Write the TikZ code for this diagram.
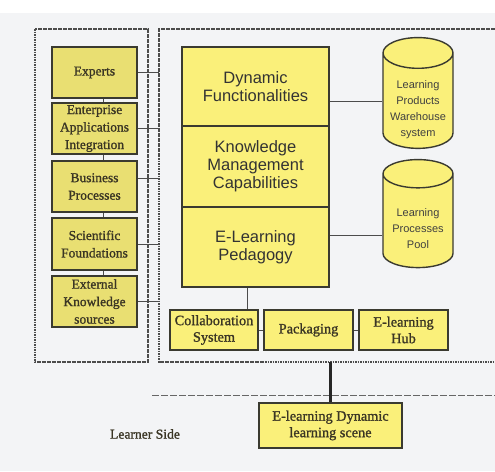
\documentclass[tikz,border=0pt]{standalone}
\usepackage{fontspec}
\setmainfont[BoldFont=Liberation Serif,BoldFeatures={FakeBold=1.2}]{Liberation Serif}
\setsansfont{Liberation Sans}
\usetikzlibrary{shapes.geometric}
\definecolor{leftfill}{HTML}{E9DF72}
\definecolor{mainfill}{HTML}{FAF07A}
\definecolor{edge}{HTML}{3A3A30}
\definecolor{ink}{HTML}{3A3524}
\definecolor{page}{HTML}{F3F4F6}
\newcommand{\storelabel}[1]{\raisebox{-8pt}[\height][\depth]{\begin{tabular}{@{}c@{}}#1\end{tabular}}}
\begin{document}
\begin{tikzpicture}[x=1pt,y=-1pt]
    \tikzstyle{every node}+=[inner sep=0pt]
    \tikzstyle{leftbox}=[draw=edge,line width=1.4pt,fill=leftfill,minimum width=85pt,align=center,text=ink,font=\bfseries\fontsize{13.5}{17.5}\selectfont]
    \tikzstyle{mainbox}=[draw=edge,line width=1.4pt,fill=mainfill,minimum width=147pt,align=center,text=black!80,font=\sffamily\fontsize{16.5}{18}\selectfont]
    \tikzstyle{store}=[draw=edge,line width=1.4pt,fill=mainfill,cylinder,shape border rotate=90,aspect=0.55,minimum width=70pt,minimum height=108pt,text=black!75,font=\sffamily\fontsize{11}{16}\selectfont]
    \tikzstyle{botbox}=[draw=edge,line width=1.4pt,fill=mainfill,minimum height=40pt,align=center,text=ink,font=\bfseries\fontsize{14.3}{16.5}\selectfont]
    \tikzstyle{link}=[draw=black!70,line width=0.8pt]
    \tikzstyle{region}=[draw=black!70,line width=1.6pt,dash pattern=on 1.6pt off 0.9pt]
    \fill [white] (0,0) rectangle (495,471);
    \fill [page] (0,13) rectangle (495,471);
    \useasboundingbox (0,0) rectangle (495,471);
    \draw [region] (35,29) rectangle (148,362);
    \draw [region] (495,29) -- (159,29) -- (159,362) -- (495,362);
    \draw [black!60,line width=0.8pt,dash pattern=on 7pt off 2pt] (152,395) -- (495,395);
    \coordinate (rside) at (159,0);
    \coordinate (lx) at (103,0);
    \coordinate (bx) at (247,0);
    \coordinate (rb) at (0,362);
    \node [leftbox,minimum height=51pt] (experts) at (94.5,72.5) {Experts};
    \node [leftbox,minimum height=51pt] (enterprise) at (94.5,128.5) {Enterprise\\Applications\\Integration};
    \node [leftbox,minimum height=51pt] (business) at (94.5,186.5) {Business\\Processes};
    \node [leftbox,minimum height=52pt] (scientific) at (94.5,244) {Scientific\\Foundations};
    \node [leftbox,minimum height=51pt] (external) at (94.5,301.5) {External\\Knowledge\\sources};
    \node [mainbox,minimum height=79pt] (dynfunc) at (255.5,86.5) {Dynamic\\Functionalities};
    \node [mainbox,minimum height=81pt] (knowmgmt) at (255.5,166.5) {Knowledge\\Management\\Capabilities};
    \node [mainbox,minimum height=80pt] (elped) at (255.5,247) {E-Learning\\Pedagogy};
    \node [store] (lpws) at (418,101) {\storelabel{Learning\\Products\\Warehouse\\system}};
    \node [store] (lpp) at (418,221) {\storelabel{Learning\\Processes\\Pool}};
    \node [botbox,minimum width=88pt] (collab) at (214,330) {Collaboration\\System};
    \node [botbox,minimum width=89pt] (packaging) at (308.5,330) {Packaging};
    \node [botbox,minimum width=89pt] (elhub) at (403.5,330) {E-learning\\Hub};
    \node [botbox,minimum width=143pt,minimum height=45pt] (scene) at (330.5,425.5) {E-learning Dynamic\\learning scene};
    \node [text=ink,font=\bfseries\fontsize{13.6}{16}\selectfont] (learner) at (145,434) {Learner Side};
    \draw [link] (experts.south -| lx) -- (enterprise.north -| lx);
    \draw [link] (enterprise.south -| lx) -- (business.north -| lx);
    \draw [link] (business.south -| lx) -- (scientific.north -| lx);
    \draw [link] (scientific.south -| lx) -- (external.north -| lx);
    \draw [link] (experts.east) -- (experts.east -| rside);
    \draw [link] (enterprise.east) -- (enterprise.east -| rside);
    \draw [link,line width=1.6pt] ([yshift=8pt]business.east) -- ([yshift=8pt]business.east -| rside);
    \draw [link] (scientific.east) -- (scientific.east -| rside);
    \draw [link] (external.east) -- (external.east -| rside);
    \draw [link] (lpws.west) -- (lpws.west -| dynfunc.east);
    \draw [link] ([yshift=-14pt]lpp.west) -- ([yshift=-14pt]lpp.west -| elped.east);
    \draw [link] (elped.south -| bx) -- (collab.north -| bx);
    \draw [link] (collab) -- (packaging);
    \draw [link] (packaging) -- (elhub);
    \draw [draw=black!85,line width=3pt] (scene.north) -- (scene.north |- rb);
\end{tikzpicture}
\end{document}
